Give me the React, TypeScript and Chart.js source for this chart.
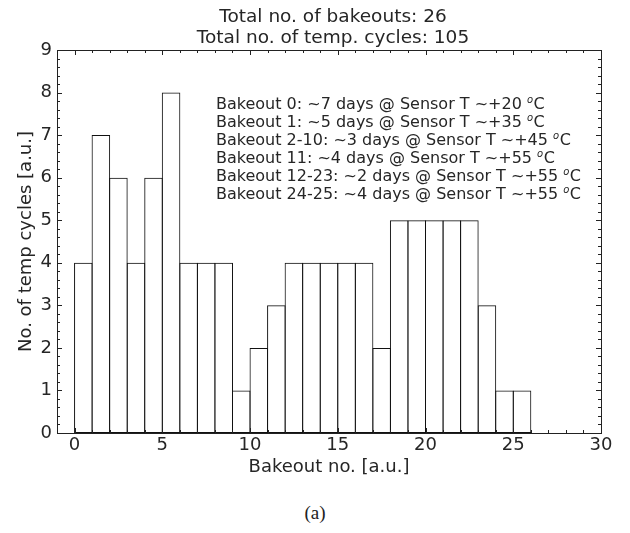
import React, { useEffect, useRef } from "react";
import { Chart, registerables } from "chart.js";

Chart.register(...registerables);

const bakeoutNumbers: number[] = [0, 1, 2, 3, 4, 5, 6, 7, 8, 9, 10, 11, 12, 13, 14, 15, 16, 17, 18, 19, 20, 21, 22, 23, 24, 25];
const tempCycles: number[] = [4, 7, 6, 4, 6, 8, 4, 4, 4, 1, 2, 3, 4, 4, 4, 4, 4, 2, 5, 5, 5, 5, 5, 3, 1, 1];
const xTickValues: number[] = [0, 5, 10, 15, 20, 25, 30];
const titleLines: string[] = ["Total no. of bakeouts: 26", "Total no. of temp. cycles: 105"];
const noteLines: string[] = [
  "Bakeout 0: ~7 days @ Sensor T ~+20 ",
  "Bakeout 1: ~5 days @ Sensor T ~+35 ",
  "Bakeout 2-10: ~3 days @ Sensor T ~+45 ",
  "Bakeout 11: ~4 days @ Sensor T ~+55 ",
  "Bakeout 12-23: ~2 days @ Sensor T ~+55 ",
  "Bakeout 24-25: ~4 days @ Sensor T ~+55 ",
];
const xMin = -1;
const xMax = 30;
const yMin = 0;
const yMax = 9;

const FONT = "'DejaVu Sans', sans-serif";
const TEXT = "#262626";

const framePlugin = {
  id: "frameTicks",
  afterDatasetsDraw(chart: any) {
    const { ctx, chartArea } = chart;
    const xs = chart.scales.x;
    const ys = chart.scales.y;
    const { left, right, top, bottom } = chartArea;
    ctx.save();
    ctx.strokeStyle = "#222";
    ctx.lineWidth = 1;
    ctx.beginPath();
    for (let v = xMin; v <= xMax; v += 1) {
      const px = Math.round(xs.getPixelForValue(v)) + 0.5;
      const len = v % 5 === 0 ? 5 : 3;
      ctx.moveTo(px, bottom);
      ctx.lineTo(px, bottom - len);
      ctx.moveTo(px, top);
      ctx.lineTo(px, top + len);
    }
    for (let i = 0; i <= (yMax - yMin) * 5; i++) {
      const v = yMin + i * 0.2;
      const py = Math.round(ys.getPixelForValue(v)) + 0.5;
      const len = i % 5 === 0 ? 5 : 3;
      ctx.moveTo(left, py);
      ctx.lineTo(left + len, py);
      ctx.moveTo(right, py);
      ctx.lineTo(right - len, py);
    }
    ctx.stroke();
    ctx.strokeRect(Math.round(left) + 0.5, Math.round(top) + 0.5, Math.round(right - left), Math.round(bottom - top));
    ctx.fillStyle = TEXT;
    ctx.textAlign = "center";
    ctx.textBaseline = "middle";
    ctx.font = `18.5px ${FONT}`;
    const cx = (left + right) / 2 + 4;
    ctx.fillText(titleLines[0], cx, 17.5);
    ctx.fillText(titleLines[1], cx, 38.5);
    ctx.textAlign = "left";
    ctx.textBaseline = "alphabetic";
    noteLines.forEach((line, i) => {
      const y = 109 + i * 18;
      const x0 = 216;
      ctx.font = `16px ${FONT}`;
      ctx.fillText(line, x0, y);
      const w = ctx.measureText(line).width;
      ctx.font = `italic 10px ${FONT}`;
      ctx.fillText("o", x0 + w, y - 6);
      const wo = ctx.measureText("o").width;
      ctx.font = `16px ${FONT}`;
      ctx.fillText("C", x0 + w + wo + 0.5, y);
    });
    ctx.restore();
  },
};

export default function App() {
  const ref = useRef<HTMLCanvasElement | null>(null);
  useEffect(() => {
    if (!ref.current) return;
    const chart = new Chart(ref.current, {
      type: "bar",
      data: {
        datasets: [
          {
            data: bakeoutNumbers.map((b, i) => ({ x: b + 0.5, y: tempCycles[i] })),
            backgroundColor: "rgba(255,255,255,0)",
            borderColor: "#111",
            borderWidth: 1,
            borderSkipped: false,
            inflateAmount: 0,
            barPercentage: 1.057,
            categoryPercentage: 1,
          } as any,
        ],
      },
      options: {
        animation: false,
        responsive: false,
        maintainAspectRatio: false,
        layout: { padding: { top: 50, right: 29, left: 0, bottom: 0 } },
        plugins: { legend: { display: false }, tooltip: { enabled: false }, title: { display: false } },
        scales: {
          x: {
            type: "linear",
            min: xMin,
            max: xMax,
            offset: false,
            grid: { display: false, drawTicks: false },
            border: { display: false },
            afterBuildTicks: (s: any) => {
              s.ticks = xTickValues.map((v) => ({ value: v }));
            },
            ticks: {
              color: TEXT,
              font: { family: FONT, size: 18 },
              padding: 2,
              maxRotation: 0,
              autoSkip: false,
            },
            title: {
              display: true,
              text: "Bakeout no. [a.u.]",
              color: TEXT,
              font: { family: FONT, size: 18 },
              padding: { top: 0, bottom: 2 },
            },
            afterFit: (s: any) => {
              s.height = 47;
            },
          },
          y: {
            min: yMin,
            max: yMax,
            grid: { display: false, drawTicks: false },
            border: { display: false },
            ticks: {
              stepSize: 1,
              color: TEXT,
              font: { family: FONT, size: 18 },
              padding: 5,
            },
            title: {
              display: true,
              text: "No. of temp cycles [a.u.]",
              color: TEXT,
              font: { family: FONT, size: 18 },
              padding: { top: 16, bottom: 0 },
            },
            afterFit: (s: any) => {
              s.width = 57;
            },
          },
        },
      },
      plugins: [framePlugin],
    });
    return () => chart.destroy();
  }, []);
  return (
    <div style={{ position: "absolute", left: 0, top: 0, width: 630, height: 533, background: "#fff" }}>
      <canvas ref={ref} width={630} height={480} style={{ display: "block", width: 630, height: 480 }} />
      <div
        style={{
          position: "absolute",
          left: 0,
          width: 630,
          top: 502,
          textAlign: "center",
          fontFamily: "'Liberation Serif', 'DejaVu Serif', serif",
          fontSize: 19,
          color: "#222",
          lineHeight: "22px",
        }}
      >
        (a)
      </div>
    </div>
  );
}
